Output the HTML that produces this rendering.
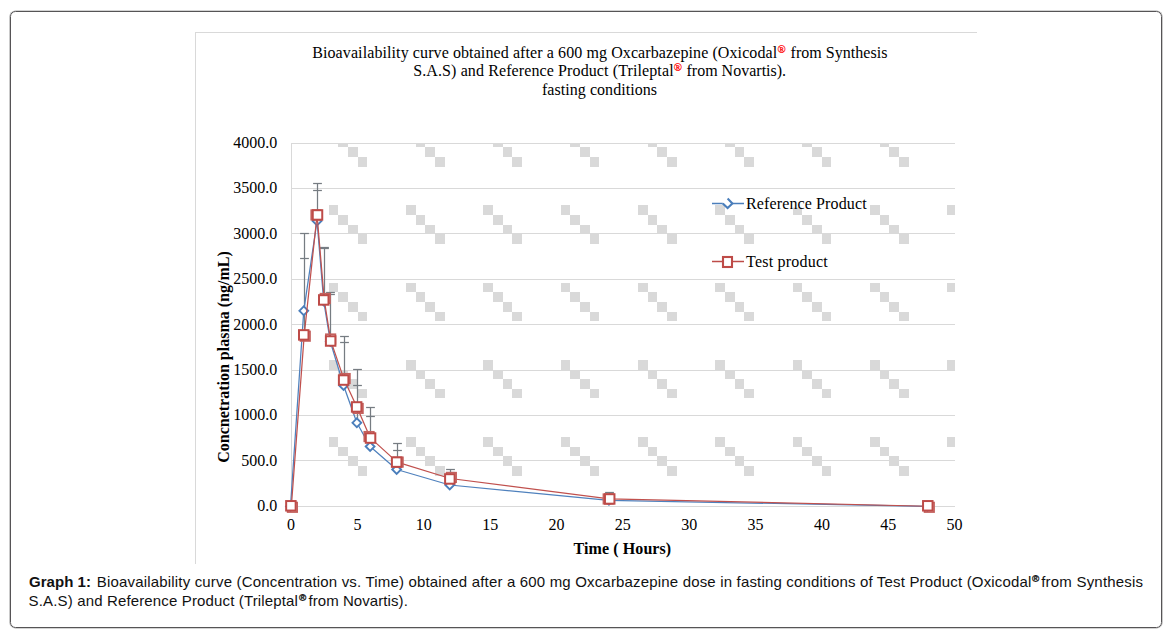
<!DOCTYPE html>
<html><head><meta charset="utf-8"><style>
html,body{margin:0;padding:0;background:#fff;}
body{width:1167px;height:637px;position:relative;overflow:hidden;font-family:"Liberation Sans",sans-serif;}
.box{position:absolute;left:10px;top:11px;width:1150px;height:615px;border:1px solid #565456;border-radius:5.5px;box-shadow:0 0 0 0.6px rgba(60,60,60,0.45);}
</style></head><body>
<div class="box"></div>
<svg width="1167" height="637" viewBox="0 0 1167 637" style="position:absolute;left:0;top:0">
<defs><clipPath id="pc"><rect x="291" y="143" width="664" height="364"/></clipPath></defs>
<line x1="195" y1="32.5" x2="977" y2="32.5" stroke="#d9d9d9" stroke-width="1"/>
<line x1="195.5" y1="32" x2="195.5" y2="564" stroke="#d9d9d9" stroke-width="1"/>
<text x="312.2" y="57.7" font-family="Liberation Serif" font-size="16" fill="#000" textLength="465.0" lengthAdjust="spacing" xml:space="preserve">Bioavailability curve obtained after a 600 mg Oxcarbazepine (Oxicodal</text>
<text x="777.6" y="52.6" font-family="Liberation Serif" font-size="10.8" fill="#ff0000" stroke="#ff0000" stroke-width="0.25">&#174;</text>
<text x="786.6" y="57.7" font-family="Liberation Serif" font-size="16" fill="#000" textLength="100.8" lengthAdjust="spacing" xml:space="preserve"> from Synthesis</text>
<text x="413.2" y="75.8" font-family="Liberation Serif" font-size="16" fill="#000" textLength="260.4" lengthAdjust="spacing" xml:space="preserve">S.A.S) and Reference Product (Trileptal</text>
<text x="673.7" y="70.9" font-family="Liberation Serif" font-size="10.8" fill="#ff0000" stroke="#ff0000" stroke-width="0.25">&#174;</text>
<text x="682.5" y="75.8" font-family="Liberation Serif" font-size="16" fill="#000" textLength="103.6" lengthAdjust="spacing" xml:space="preserve"> from Novartis).</text>
<text x="542.0" y="94.7" font-family="Liberation Serif" font-size="16" fill="#000" textLength="115.0" lengthAdjust="spacing" xml:space="preserve">fasting conditions</text>
<g clip-path="url(#pc)" fill="#d9d9d9" shape-rendering="crispEdges"><rect x="252" y="51" width="9" height="9"/><rect x="261" y="60" width="10" height="10"/><rect x="271" y="70" width="9" height="10"/><rect x="280" y="80" width="10" height="9"/><rect x="252" y="128" width="9" height="10"/><rect x="261" y="138" width="10" height="9"/><rect x="271" y="147" width="9" height="10"/><rect x="280" y="157" width="10" height="10"/><rect x="252" y="205" width="9" height="10"/><rect x="261" y="215" width="10" height="10"/><rect x="271" y="225" width="9" height="9"/><rect x="280" y="234" width="10" height="10"/><rect x="252" y="283" width="9" height="9"/><rect x="261" y="292" width="10" height="10"/><rect x="271" y="302" width="9" height="10"/><rect x="280" y="312" width="10" height="9"/><rect x="252" y="360" width="9" height="10"/><rect x="261" y="370" width="10" height="9"/><rect x="271" y="379" width="9" height="10"/><rect x="280" y="389" width="10" height="9"/><rect x="252" y="437" width="9" height="10"/><rect x="261" y="447" width="10" height="9"/><rect x="271" y="456" width="9" height="10"/><rect x="280" y="466" width="10" height="10"/><rect x="252" y="514" width="9" height="10"/><rect x="261" y="524" width="10" height="10"/><rect x="271" y="534" width="9" height="9"/><rect x="280" y="543" width="10" height="10"/><rect x="329" y="51" width="9" height="9"/><rect x="338" y="60" width="10" height="10"/><rect x="348" y="70" width="10" height="10"/><rect x="358" y="80" width="9" height="9"/><rect x="329" y="128" width="9" height="10"/><rect x="338" y="138" width="10" height="9"/><rect x="348" y="147" width="10" height="10"/><rect x="358" y="157" width="9" height="10"/><rect x="329" y="205" width="9" height="10"/><rect x="338" y="215" width="10" height="10"/><rect x="348" y="225" width="10" height="9"/><rect x="358" y="234" width="9" height="10"/><rect x="329" y="283" width="9" height="9"/><rect x="338" y="292" width="10" height="10"/><rect x="348" y="302" width="10" height="10"/><rect x="358" y="312" width="9" height="9"/><rect x="329" y="360" width="9" height="10"/><rect x="338" y="370" width="10" height="9"/><rect x="348" y="379" width="10" height="10"/><rect x="358" y="389" width="9" height="9"/><rect x="329" y="437" width="9" height="10"/><rect x="338" y="447" width="10" height="9"/><rect x="348" y="456" width="10" height="10"/><rect x="358" y="466" width="9" height="10"/><rect x="329" y="514" width="9" height="10"/><rect x="338" y="524" width="10" height="10"/><rect x="348" y="534" width="10" height="9"/><rect x="358" y="543" width="9" height="10"/><rect x="406" y="51" width="10" height="9"/><rect x="416" y="60" width="9" height="10"/><rect x="425" y="70" width="10" height="10"/><rect x="435" y="80" width="10" height="9"/><rect x="406" y="128" width="10" height="10"/><rect x="416" y="138" width="9" height="9"/><rect x="425" y="147" width="10" height="10"/><rect x="435" y="157" width="10" height="10"/><rect x="406" y="205" width="10" height="10"/><rect x="416" y="215" width="9" height="10"/><rect x="425" y="225" width="10" height="9"/><rect x="435" y="234" width="10" height="10"/><rect x="406" y="283" width="10" height="9"/><rect x="416" y="292" width="9" height="10"/><rect x="425" y="302" width="10" height="10"/><rect x="435" y="312" width="10" height="9"/><rect x="406" y="360" width="10" height="10"/><rect x="416" y="370" width="9" height="9"/><rect x="425" y="379" width="10" height="10"/><rect x="435" y="389" width="10" height="9"/><rect x="406" y="437" width="10" height="10"/><rect x="416" y="447" width="9" height="9"/><rect x="425" y="456" width="10" height="10"/><rect x="435" y="466" width="10" height="10"/><rect x="406" y="514" width="10" height="10"/><rect x="416" y="524" width="9" height="10"/><rect x="425" y="534" width="10" height="9"/><rect x="435" y="543" width="10" height="10"/><rect x="483" y="51" width="10" height="9"/><rect x="493" y="60" width="10" height="10"/><rect x="503" y="70" width="9" height="10"/><rect x="512" y="80" width="10" height="9"/><rect x="483" y="128" width="10" height="10"/><rect x="493" y="138" width="10" height="9"/><rect x="503" y="147" width="9" height="10"/><rect x="512" y="157" width="10" height="10"/><rect x="483" y="205" width="10" height="10"/><rect x="493" y="215" width="10" height="10"/><rect x="503" y="225" width="9" height="9"/><rect x="512" y="234" width="10" height="10"/><rect x="483" y="283" width="10" height="9"/><rect x="493" y="292" width="10" height="10"/><rect x="503" y="302" width="9" height="10"/><rect x="512" y="312" width="10" height="9"/><rect x="483" y="360" width="10" height="10"/><rect x="493" y="370" width="10" height="9"/><rect x="503" y="379" width="9" height="10"/><rect x="512" y="389" width="10" height="9"/><rect x="483" y="437" width="10" height="10"/><rect x="493" y="447" width="10" height="9"/><rect x="503" y="456" width="9" height="10"/><rect x="512" y="466" width="10" height="10"/><rect x="483" y="514" width="10" height="10"/><rect x="493" y="524" width="10" height="10"/><rect x="503" y="534" width="9" height="9"/><rect x="512" y="543" width="10" height="10"/><rect x="561" y="51" width="9" height="9"/><rect x="570" y="60" width="10" height="10"/><rect x="580" y="70" width="10" height="10"/><rect x="590" y="80" width="9" height="9"/><rect x="561" y="128" width="9" height="10"/><rect x="570" y="138" width="10" height="9"/><rect x="580" y="147" width="10" height="10"/><rect x="590" y="157" width="9" height="10"/><rect x="561" y="205" width="9" height="10"/><rect x="570" y="215" width="10" height="10"/><rect x="580" y="225" width="10" height="9"/><rect x="590" y="234" width="9" height="10"/><rect x="561" y="283" width="9" height="9"/><rect x="570" y="292" width="10" height="10"/><rect x="580" y="302" width="10" height="10"/><rect x="590" y="312" width="9" height="9"/><rect x="561" y="360" width="9" height="10"/><rect x="570" y="370" width="10" height="9"/><rect x="580" y="379" width="10" height="10"/><rect x="590" y="389" width="9" height="9"/><rect x="561" y="437" width="9" height="10"/><rect x="570" y="447" width="10" height="9"/><rect x="580" y="456" width="10" height="10"/><rect x="590" y="466" width="9" height="10"/><rect x="561" y="514" width="9" height="10"/><rect x="570" y="524" width="10" height="10"/><rect x="580" y="534" width="10" height="9"/><rect x="590" y="543" width="9" height="10"/><rect x="638" y="51" width="10" height="9"/><rect x="648" y="60" width="9" height="10"/><rect x="657" y="70" width="10" height="10"/><rect x="667" y="80" width="10" height="9"/><rect x="638" y="128" width="10" height="10"/><rect x="648" y="138" width="9" height="9"/><rect x="657" y="147" width="10" height="10"/><rect x="667" y="157" width="10" height="10"/><rect x="638" y="205" width="10" height="10"/><rect x="648" y="215" width="9" height="10"/><rect x="657" y="225" width="10" height="9"/><rect x="667" y="234" width="10" height="10"/><rect x="638" y="283" width="10" height="9"/><rect x="648" y="292" width="9" height="10"/><rect x="657" y="302" width="10" height="10"/><rect x="667" y="312" width="10" height="9"/><rect x="638" y="360" width="10" height="10"/><rect x="648" y="370" width="9" height="9"/><rect x="657" y="379" width="10" height="10"/><rect x="667" y="389" width="10" height="9"/><rect x="638" y="437" width="10" height="10"/><rect x="648" y="447" width="9" height="9"/><rect x="657" y="456" width="10" height="10"/><rect x="667" y="466" width="10" height="10"/><rect x="638" y="514" width="10" height="10"/><rect x="648" y="524" width="9" height="10"/><rect x="657" y="534" width="10" height="9"/><rect x="667" y="543" width="10" height="10"/><rect x="715" y="51" width="10" height="9"/><rect x="725" y="60" width="10" height="10"/><rect x="735" y="70" width="9" height="10"/><rect x="744" y="80" width="10" height="9"/><rect x="715" y="128" width="10" height="10"/><rect x="725" y="138" width="10" height="9"/><rect x="735" y="147" width="9" height="10"/><rect x="744" y="157" width="10" height="10"/><rect x="715" y="205" width="10" height="10"/><rect x="725" y="215" width="10" height="10"/><rect x="735" y="225" width="9" height="9"/><rect x="744" y="234" width="10" height="10"/><rect x="715" y="283" width="10" height="9"/><rect x="725" y="292" width="10" height="10"/><rect x="735" y="302" width="9" height="10"/><rect x="744" y="312" width="10" height="9"/><rect x="715" y="360" width="10" height="10"/><rect x="725" y="370" width="10" height="9"/><rect x="735" y="379" width="9" height="10"/><rect x="744" y="389" width="10" height="9"/><rect x="715" y="437" width="10" height="10"/><rect x="725" y="447" width="10" height="9"/><rect x="735" y="456" width="9" height="10"/><rect x="744" y="466" width="10" height="10"/><rect x="715" y="514" width="10" height="10"/><rect x="725" y="524" width="10" height="10"/><rect x="735" y="534" width="9" height="9"/><rect x="744" y="543" width="10" height="10"/><rect x="793" y="51" width="9" height="9"/><rect x="802" y="60" width="10" height="10"/><rect x="812" y="70" width="10" height="10"/><rect x="822" y="80" width="9" height="9"/><rect x="793" y="128" width="9" height="10"/><rect x="802" y="138" width="10" height="9"/><rect x="812" y="147" width="10" height="10"/><rect x="822" y="157" width="9" height="10"/><rect x="793" y="205" width="9" height="10"/><rect x="802" y="215" width="10" height="10"/><rect x="812" y="225" width="10" height="9"/><rect x="822" y="234" width="9" height="10"/><rect x="793" y="283" width="9" height="9"/><rect x="802" y="292" width="10" height="10"/><rect x="812" y="302" width="10" height="10"/><rect x="822" y="312" width="9" height="9"/><rect x="793" y="360" width="9" height="10"/><rect x="802" y="370" width="10" height="9"/><rect x="812" y="379" width="10" height="10"/><rect x="822" y="389" width="9" height="9"/><rect x="793" y="437" width="9" height="10"/><rect x="802" y="447" width="10" height="9"/><rect x="812" y="456" width="10" height="10"/><rect x="822" y="466" width="9" height="10"/><rect x="793" y="514" width="9" height="10"/><rect x="802" y="524" width="10" height="10"/><rect x="812" y="534" width="10" height="9"/><rect x="822" y="543" width="9" height="10"/><rect x="870" y="51" width="10" height="9"/><rect x="880" y="60" width="9" height="10"/><rect x="889" y="70" width="10" height="10"/><rect x="899" y="80" width="10" height="9"/><rect x="870" y="128" width="10" height="10"/><rect x="880" y="138" width="9" height="9"/><rect x="889" y="147" width="10" height="10"/><rect x="899" y="157" width="10" height="10"/><rect x="870" y="205" width="10" height="10"/><rect x="880" y="215" width="9" height="10"/><rect x="889" y="225" width="10" height="9"/><rect x="899" y="234" width="10" height="10"/><rect x="870" y="283" width="10" height="9"/><rect x="880" y="292" width="9" height="10"/><rect x="889" y="302" width="10" height="10"/><rect x="899" y="312" width="10" height="9"/><rect x="870" y="360" width="10" height="10"/><rect x="880" y="370" width="9" height="9"/><rect x="889" y="379" width="10" height="10"/><rect x="899" y="389" width="10" height="9"/><rect x="870" y="437" width="10" height="10"/><rect x="880" y="447" width="9" height="9"/><rect x="889" y="456" width="10" height="10"/><rect x="899" y="466" width="10" height="10"/><rect x="870" y="514" width="10" height="10"/><rect x="880" y="524" width="9" height="10"/><rect x="889" y="534" width="10" height="9"/><rect x="899" y="543" width="10" height="10"/><rect x="947" y="51" width="10" height="9"/><rect x="957" y="60" width="9" height="10"/><rect x="966" y="70" width="10" height="10"/><rect x="976" y="80" width="10" height="9"/><rect x="947" y="128" width="10" height="10"/><rect x="957" y="138" width="9" height="9"/><rect x="966" y="147" width="10" height="10"/><rect x="976" y="157" width="10" height="10"/><rect x="947" y="205" width="10" height="10"/><rect x="957" y="215" width="9" height="10"/><rect x="966" y="225" width="10" height="9"/><rect x="976" y="234" width="10" height="10"/><rect x="947" y="283" width="10" height="9"/><rect x="957" y="292" width="9" height="10"/><rect x="966" y="302" width="10" height="10"/><rect x="976" y="312" width="10" height="9"/><rect x="947" y="360" width="10" height="10"/><rect x="957" y="370" width="9" height="9"/><rect x="966" y="379" width="10" height="10"/><rect x="976" y="389" width="10" height="9"/><rect x="947" y="437" width="10" height="10"/><rect x="957" y="447" width="9" height="9"/><rect x="966" y="456" width="10" height="10"/><rect x="976" y="466" width="10" height="10"/><rect x="947" y="514" width="10" height="10"/><rect x="957" y="524" width="9" height="10"/><rect x="966" y="534" width="10" height="9"/><rect x="976" y="543" width="10" height="10"/></g>
<line x1="291" y1="143.5" x2="955" y2="143.5" stroke="#d9d9d9" stroke-width="1"/>
<line x1="291" y1="188.5" x2="955" y2="188.5" stroke="#d9d9d9" stroke-width="1"/>
<line x1="291" y1="233.5" x2="955" y2="233.5" stroke="#d9d9d9" stroke-width="1"/>
<line x1="291" y1="279.5" x2="955" y2="279.5" stroke="#d9d9d9" stroke-width="1"/>
<line x1="291" y1="324.5" x2="955" y2="324.5" stroke="#d9d9d9" stroke-width="1"/>
<line x1="291" y1="370.5" x2="955" y2="370.5" stroke="#d9d9d9" stroke-width="1"/>
<line x1="291" y1="415.5" x2="955" y2="415.5" stroke="#d9d9d9" stroke-width="1"/>
<line x1="291" y1="460.5" x2="955" y2="460.5" stroke="#d9d9d9" stroke-width="1"/>
<line x1="291" y1="506.5" x2="955" y2="506.5" stroke="#d9d9d9" stroke-width="1"/>
<line x1="291.5" y1="143" x2="291.5" y2="507" stroke="#d9d9d9" stroke-width="1"/>
<text x="277.2" y="148.10" font-family="Liberation Serif" font-size="16" text-anchor="end" fill="#000">4000.0</text>
<text x="277.2" y="193.47" font-family="Liberation Serif" font-size="16" text-anchor="end" fill="#000">3500.0</text>
<text x="277.2" y="238.85" font-family="Liberation Serif" font-size="16" text-anchor="end" fill="#000">3000.0</text>
<text x="277.2" y="284.23" font-family="Liberation Serif" font-size="16" text-anchor="end" fill="#000">2500.0</text>
<text x="277.2" y="329.60" font-family="Liberation Serif" font-size="16" text-anchor="end" fill="#000">2000.0</text>
<text x="277.2" y="374.98" font-family="Liberation Serif" font-size="16" text-anchor="end" fill="#000">1500.0</text>
<text x="277.2" y="420.35" font-family="Liberation Serif" font-size="16" text-anchor="end" fill="#000">1000.0</text>
<text x="277.2" y="465.73" font-family="Liberation Serif" font-size="16" text-anchor="end" fill="#000">500.0</text>
<text x="277.2" y="511.10" font-family="Liberation Serif" font-size="16" text-anchor="end" fill="#000">0.0</text>
<text x="291.10" y="530" font-family="Liberation Serif" font-size="16" text-anchor="middle" fill="#000">0</text>
<text x="357.45" y="530" font-family="Liberation Serif" font-size="16" text-anchor="middle" fill="#000">5</text>
<text x="423.80" y="530" font-family="Liberation Serif" font-size="16" text-anchor="middle" fill="#000">10</text>
<text x="490.15" y="530" font-family="Liberation Serif" font-size="16" text-anchor="middle" fill="#000">15</text>
<text x="556.50" y="530" font-family="Liberation Serif" font-size="16" text-anchor="middle" fill="#000">20</text>
<text x="622.85" y="530" font-family="Liberation Serif" font-size="16" text-anchor="middle" fill="#000">25</text>
<text x="689.20" y="530" font-family="Liberation Serif" font-size="16" text-anchor="middle" fill="#000">30</text>
<text x="755.55" y="530" font-family="Liberation Serif" font-size="16" text-anchor="middle" fill="#000">35</text>
<text x="821.90" y="530" font-family="Liberation Serif" font-size="16" text-anchor="middle" fill="#000">40</text>
<text x="888.25" y="530" font-family="Liberation Serif" font-size="16" text-anchor="middle" fill="#000">45</text>
<text x="954.60" y="530" font-family="Liberation Serif" font-size="16" text-anchor="middle" fill="#000">50</text>
<text x="573.6" y="554" font-family="Liberation Serif" font-size="16" font-weight="bold" fill="#000" textLength="97.6" lengthAdjust="spacing">Time ( Hours)</text>
<text transform="translate(228.5,357) rotate(-90)" font-family="Liberation Serif" font-size="16" font-weight="bold" text-anchor="middle" fill="#000">Concnetration plasma (ng/mL)</text>
<g stroke="#767c82" stroke-width="1.25"><line x1="304.50" y1="334.90" x2="304.50" y2="233.50"/><line x1="300.10" y1="233.50" x2="308.90" y2="233.50"/><line x1="300.10" y1="258.50" x2="308.90" y2="258.50"/><line x1="317.50" y1="221.00" x2="317.50" y2="183.50"/><line x1="313.10" y1="183.50" x2="321.90" y2="183.50"/><line x1="313.10" y1="190.50" x2="321.90" y2="190.50"/><line x1="324.50" y1="301.00" x2="324.50" y2="247.50"/><line x1="320.10" y1="247.50" x2="328.90" y2="247.50"/><line x1="320.10" y1="248.50" x2="328.90" y2="248.50"/><line x1="330.50" y1="341.50" x2="330.50" y2="292.50"/><line x1="326.10" y1="292.50" x2="334.90" y2="292.50"/><line x1="326.10" y1="294.50" x2="334.90" y2="294.50"/><line x1="344.50" y1="385.50" x2="344.50" y2="336.50"/><line x1="340.10" y1="336.50" x2="348.90" y2="336.50"/><line x1="340.10" y1="342.50" x2="348.90" y2="342.50"/><line x1="357.50" y1="422.80" x2="357.50" y2="369.50"/><line x1="353.10" y1="369.50" x2="361.90" y2="369.50"/><line x1="353.10" y1="385.50" x2="361.90" y2="385.50"/><line x1="370.50" y1="446.50" x2="370.50" y2="407.50"/><line x1="366.10" y1="407.50" x2="374.90" y2="407.50"/><line x1="366.10" y1="416.50" x2="374.90" y2="416.50"/><line x1="397.50" y1="469.50" x2="397.50" y2="443.50"/><line x1="393.10" y1="443.50" x2="401.90" y2="443.50"/><line x1="393.10" y1="450.50" x2="401.90" y2="450.50"/><line x1="450.50" y1="485.00" x2="450.50" y2="469.50"/><line x1="446.10" y1="469.50" x2="454.90" y2="469.50"/><line x1="446.10" y1="472.50" x2="454.90" y2="472.50"/><line x1="609.50" y1="500.30" x2="609.50" y2="492.50"/><line x1="605.10" y1="492.50" x2="613.90" y2="492.50"/><line x1="605.10" y1="494.50" x2="613.90" y2="494.50"/></g>
<polyline points="290.50,506.40 303.77,310.80 317.04,221.00 323.68,301.00 330.31,341.50 343.58,385.50 356.85,422.80 370.12,446.50 396.66,469.50 449.74,485.00 608.98,500.30 927.46,506.40" fill="none" stroke="#4f81bd" stroke-width="1.25" stroke-linejoin="round"/>
<g fill="#fff" stroke="#4a7ebb" stroke-width="1.9"><path d="M286.10,506.40 L290.50,502.00 L294.90,506.40 L290.50,510.80 Z"/><path d="M299.37,310.80 L303.77,306.40 L308.17,310.80 L303.77,315.20 Z"/><path d="M312.64,221.00 L317.04,216.60 L321.44,221.00 L317.04,225.40 Z"/><path d="M319.28,301.00 L323.68,296.60 L328.07,301.00 L323.68,305.40 Z"/><path d="M325.91,341.50 L330.31,337.10 L334.71,341.50 L330.31,345.90 Z"/><path d="M339.18,385.50 L343.58,381.10 L347.98,385.50 L343.58,389.90 Z"/><path d="M352.45,422.80 L356.85,418.40 L361.25,422.80 L356.85,427.20 Z"/><path d="M365.72,446.50 L370.12,442.10 L374.52,446.50 L370.12,450.90 Z"/><path d="M392.26,469.50 L396.66,465.10 L401.06,469.50 L396.66,473.90 Z"/><path d="M445.34,485.00 L449.74,480.60 L454.14,485.00 L449.74,489.40 Z"/><path d="M604.58,500.30 L608.98,495.90 L613.38,500.30 L608.98,504.70 Z"/><path d="M923.06,506.40 L927.46,502.00 L931.86,506.40 L927.46,510.80 Z"/></g>
<polyline points="291.35,506.25 304.20,335.29 317.05,214.95 324.20,299.50 330.65,340.40 344.10,379.60 357.10,407.40 370.10,437.60 397.10,462.10 450.30,478.50 609.25,498.95 928.25,506.25" fill="none" stroke="#c0504d" stroke-width="1.25" stroke-linejoin="round"/>
<g fill="none" stroke="#c4615e" stroke-width="1.7"><rect x="287.65" y="502.55" width="9.5" height="9.5"/><rect x="300.50" y="331.45" width="9.5" height="9.5"/><rect x="311.25" y="210.20" width="9.5" height="9.5"/><rect x="320.50" y="293.70" width="9.5" height="9.5"/><rect x="325.90" y="334.25" width="9.5" height="9.5"/><rect x="340.40" y="373.80" width="9.5" height="9.5"/><rect x="353.40" y="403.70" width="9.5" height="9.5"/><rect x="364.30" y="431.80" width="9.5" height="9.5"/><rect x="393.40" y="457.35" width="9.5" height="9.5"/><rect x="446.60" y="472.70" width="9.5" height="9.5"/><rect x="603.45" y="494.20" width="9.5" height="9.5"/><rect x="924.55" y="502.55" width="9.5" height="9.5"/></g>
<g fill="#fff" stroke="#be4b48" stroke-width="2"><rect x="286.15" y="501.05" width="9.5" height="9.5"/><rect x="299.00" y="330.15" width="9.5" height="9.5"/><rect x="312.75" y="210.20" width="9.5" height="9.5"/><rect x="319.00" y="295.20" width="9.5" height="9.5"/><rect x="325.90" y="336.25" width="9.5" height="9.5"/><rect x="338.90" y="375.30" width="9.5" height="9.5"/><rect x="351.90" y="402.20" width="9.5" height="9.5"/><rect x="365.80" y="433.30" width="9.5" height="9.5"/><rect x="391.90" y="457.35" width="9.5" height="9.5"/><rect x="445.10" y="474.20" width="9.5" height="9.5"/><rect x="604.95" y="494.20" width="9.5" height="9.5"/><rect x="923.05" y="501.05" width="9.5" height="9.5"/></g>
<rect x="745" y="196" width="123" height="11.5" fill="#fff"/>
<rect x="745" y="254" width="85" height="11.5" fill="#fff"/>
<path d="M712,203.5 H722.8 M732.4,203.5 H744" stroke="#4a7ebb" stroke-width="1.4"/>
<path d="M722.8,203.4 L727.6,208 L732.4,203.4 L727.6,198.6" fill="none" stroke="#4a7ebb" stroke-width="2.1"/>
<text x="746" y="208.5" font-family="Liberation Serif" font-size="16" fill="#000" textLength="120.6" lengthAdjust="spacing">Reference Product</text>
<path d="M712,261.5 H723 M732,261.5 H744" stroke="#be4b48" stroke-width="1.4"/>
<rect x="723" y="257" width="9" height="10" fill="#fff" stroke="#be4b48" stroke-width="2.1"/>
<text x="746" y="267.2" font-family="Liberation Serif" font-size="16" fill="#000" textLength="81.8" lengthAdjust="spacing">Test product</text>
<text x="29.0" y="586.9" font-family="Liberation Sans" font-size="15" font-weight="bold" fill="#111" textLength="62.0" lengthAdjust="spacing" xml:space="preserve">Graph 1:</text>
<text x="96.8" y="586.9" font-family="Liberation Sans" font-size="15" fill="#111" textLength="934.6" lengthAdjust="spacing" xml:space="preserve">Bioavailability curve (Concentration vs. Time) obtained after a 600 mg Oxcarbazepine dose in fasting conditions of Test Product (Oxicodal</text>
<text x="1031.9" y="582" font-family="Liberation Sans" font-size="9.8" font-weight="bold" fill="#111" stroke="#111" stroke-width="0.3">&#174;</text>
<text x="1041.2" y="586.9" font-family="Liberation Sans" font-size="15" fill="#111" textLength="101.9" lengthAdjust="spacing" xml:space="preserve">from Synthesis</text>
<text x="28.6" y="605.9" font-family="Liberation Sans" font-size="15" fill="#111" textLength="269.3" lengthAdjust="spacing" xml:space="preserve">S.A.S) and Reference Product (Trileptal</text>
<text x="298.9" y="601" font-family="Liberation Sans" font-size="9.8" font-weight="bold" fill="#111" stroke="#111" stroke-width="0.3">&#174;</text>
<text x="308.4" y="605.9" font-family="Liberation Sans" font-size="15" fill="#111" textLength="99.4" lengthAdjust="spacing" xml:space="preserve">from Novartis).</text>
</svg>
</body></html>
